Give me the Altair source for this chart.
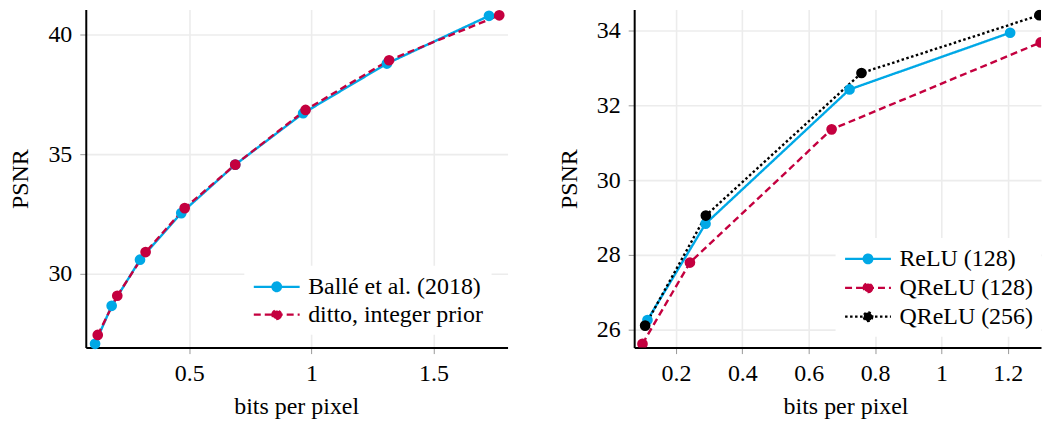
import altair as alt
import pandas as pd

# ---------------- data ----------------
LEFT_SERIES = ["Ballé et al. (2018)", "ditto, integer prior"]
balle_bpp = [0.114, 0.182, 0.298, 0.467, 0.688, 0.966, 1.309, 1.727]
balle_psnr = [27.06, 28.65, 30.58, 32.53, 34.56, 36.71, 38.79, 40.79]
intprior_bpp = [0.125, 0.205, 0.321, 0.481, 0.688, 0.976, 1.318, 1.769]
intprior_psnr = [27.43, 29.07, 30.90, 32.74, 34.56, 36.85, 38.93, 40.81]

RIGHT_SERIES = ["ReLU (128)", "QReLU (128)", "QReLU (256)"]
relu128_bpp = [0.114, 0.289, 0.723, 1.207]
relu128_psnr = [26.25, 28.83, 32.43, 33.95]
qrelu128_bpp = [0.099, 0.242, 0.669, 1.299]
qrelu128_psnr = [25.61, 27.79, 31.36, 33.69]
qrelu256_bpp = [0.107, 0.290, 0.759, 1.295]
qrelu256_psnr = [26.10, 29.05, 32.87, 34.42]

LEFT_X_TICKS = [0.5, 1, 1.5]
LEFT_Y_TICKS = [30, 35, 40]
RIGHT_X_TICKS = [0.2, 0.4, 0.6, 0.8, 1.0, 1.2]
RIGHT_Y_TICKS = [26, 28, 30, 32, 34]

# ---------------- style ----------------
FONT = "Liberation Serif"
BLUE = "#00a8e6"
RED = "#c4003f"
BLACK = "#000000"
SOLID = [1, 0]
DASHED = [7, 4]
DOTTED = [2.5, 2.5]

# legend symbol: a 46px line with a dot in its middle (unit = 11.5px)
SYMBOL_PATH = ("M-1,0L3,0"
               "M1.374,0A0.374,0.374,0,1,1,0.626,0A0.374,0.374,0,1,1,1.374,0Z")


def make_df(names, xs_list, ys_list):
    rows = []
    for name, xs, ys in zip(names, xs_list, ys_list):
        for x, y in zip(xs, ys):
            rows.append({"series": name, "bpp": x, "psnr": y})
    return pd.DataFrame(rows)


left_df = make_df(LEFT_SERIES, [balle_bpp, intprior_bpp], [balle_psnr, intprior_psnr])
right_df = make_df(RIGHT_SERIES, [relu128_bpp, qrelu128_bpp, qrelu256_bpp],
                   [relu128_psnr, qrelu128_psnr, qrelu256_psnr])


def panel(df, series, colors, dashes, xdom, ydom, xticks, yticks, width,
          lx, ly, row_pad, clip, title_x):
    legend = alt.Legend(
        title=None, orient="none", legendX=lx, legendY=ly,
        symbolType=SYMBOL_PATH, symbolSize=529, symbolStrokeWidth=2.3,
        labelFont=FONT, labelFontSize=24, labelColor="black", labelOffset=30,
        labelLimit=400, rowPadding=row_pad, padding=8, fillColor="white",
    )
    x = alt.X("bpp:Q", scale=alt.Scale(domain=xdom, nice=False, zero=False),
              axis=alt.Axis(values=xticks, format="~g", title="bits per pixel", titleX=title_x))
    y = alt.Y("psnr:Q", scale=alt.Scale(domain=ydom, nice=False, zero=False),
              axis=alt.Axis(values=yticks, format="~g", title="PSNR"))
    lines = alt.Chart(df).mark_line(strokeWidth=2.4, clip=clip).encode(
        x=x, y=y,
        stroke=alt.Stroke("series:N", scale=alt.Scale(domain=series, range=colors), legend=legend),
        strokeDash=alt.StrokeDash("series:N", scale=alt.Scale(domain=series, range=dashes), legend=legend),
    )
    points = alt.Chart(df).mark_point(filled=True, size=115, opacity=1, clip=clip).encode(
        x=x, y=y,
        fill=alt.Fill("series:N", scale=alt.Scale(domain=series, range=colors), legend=legend),
    )
    return alt.layer(lines, points).properties(width=width, height=339)


left = panel(left_df, LEFT_SERIES, [BLUE, RED], [SOLID, DASHED],
             [0.076, 1.803], [26.9, 41.05], LEFT_X_TICKS, LEFT_Y_TICKS,
             423, 159, 257, 3, False, 211)
right = panel(right_df, RIGHT_SERIES, [BLUE, RED, BLACK], [SOLID, DASHED, DOTTED],
              [0.074, 1.30], [25.51, 34.57], RIGHT_X_TICKS, RIGHT_Y_TICKS,
              408, 202, 229, 4, True, 212)

chart = (
    alt.hconcat(left, right, spacing=48)
    .resolve_scale(stroke="independent", strokeDash="independent", fill="independent")
    .properties(padding={"left": 0, "top": 0, "right": 0, "bottom": 0})
    .configure_view(stroke="transparent")
    .configure_axis(
        labelFont=FONT, labelFontSize=24, labelColor="black",
        titleFont=FONT, titleFontSize=24, titleFontWeight="normal", titleColor="black",
        domainColor="black", domainWidth=2,
        tickColor="#999999", tickSize=6, tickWidth=1,
        gridColor="#ececec", gridWidth=1.6, labelPadding=8,
    )
    .configure_axisX(titlePadding=9)
    .configure_axisY(titlePadding=15)
)

chart.save("out.html", embed_options={"renderer": "svg", "actions": False})
